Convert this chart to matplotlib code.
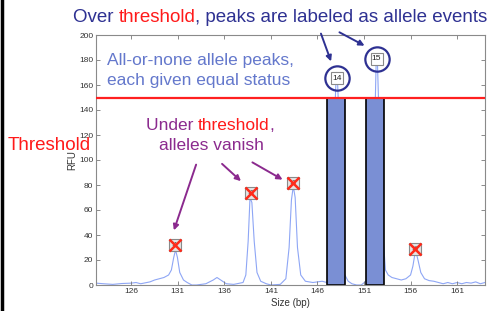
import matplotlib
matplotlib.use('Agg')
import matplotlib.pyplot as plt
from matplotlib.patches import Rectangle
from matplotlib.lines import Line2D

plt.rcParams['font.family'] = ['Liberation Sans', 'DejaVu Sans']

# ---------------- data ----------------
size_bp = [122.2, 123.0, 124.0, 125.0, 126.0, 126.5, 127.0, 128.0, 128.5, 129.0, 129.5, 130.0,
           130.3, 130.55, 130.75, 130.95, 131.2, 131.6, 132.0, 132.5, 133.0, 134.0, 134.8, 135.2,
           135.6, 136.2, 137.0, 138.0, 138.3, 138.55, 138.75, 138.95, 139.2, 139.5, 139.9, 140.5,
           141.0, 142.0, 142.6, 142.95, 143.2, 143.4, 143.6, 143.85, 144.2, 144.7, 145.5, 146.5,
           147.0, 147.4, 147.75, 147.92, 148.02, 148.12, 148.22, 148.45, 148.8, 149.3, 149.7,
           150.2, 150.7, 151.2, 151.7, 152.05, 152.22, 152.32, 152.42, 152.55, 152.85, 153.3,
           153.6, 154.0, 154.5, 155.0, 155.5, 156.0, 156.25, 156.45, 156.6, 156.8, 157.1, 157.5,
           158.0, 158.5, 159.0, 159.5, 160.0, 160.5, 161.0, 161.5, 162.0, 162.5, 163.0, 163.5, 164.0]
rfu = [1.5, 1.0, 0.5, 1.2, 1.5, 2.0, 1.0, 2.5, 4.0, 5.0, 6.0, 8.0,
       12.0, 22.0, 28.0, 22.0, 10.0, 4.0, 2.0, 0.0, 0.0, 1.0, 4.0, 6.0,
       4.0, 1.0, 0.5, 2.0, 8.0, 35.0, 70.0, 66.0, 35.0, 10.0, 3.0, 1.0,
       0.0, 0.5, 5.0, 30.0, 68.0, 79.0, 70.0, 30.0, 8.0, 3.0, 2.0, 3.0,
       2.0, 10.0, 60.0, 150.0, 170.0, 170.0, 150.0, 60.0, 10.0, 3.0, 1.0,
       0.0, 0.0, 3.0, 12.0, 80.0, 150.0, 184.0, 184.0, 150.0, 60.0, 12.0,
       8.0, 6.0, 5.0, 4.0, 5.0, 8.0, 15.0, 24.0, 26.0, 20.0, 10.0, 5.0,
       3.5, 3.0, 2.0, 1.0, 2.0, 1.0, 2.0, 1.0, 2.0, 1.5, 2.5, 1.0, 2.0]

threshold = 150
allele_bar_left = [147.0, 151.2]
allele_bar_right = [149.0, 153.2]
allele_labels = ['14', '15']
allele_label_size = [148.05, 152.35]
allele_label_rfu = [165.5, 181.0]

vanished_labels = ['11', '12', '13', '16']
vanished_size = [130.7, 138.9, 143.4, 156.5]
vanished_rfu = [32.0, 74.0, 82.0, 29.0]

xticks = [126, 131, 136, 141, 146, 151, 156, 161]
yticks = [0, 20, 40, 60, 80, 100, 120, 140, 160, 180, 200]

# ---------------- figure ----------------
W, H = 491, 311
fig = plt.figure(figsize=(W / 100, H / 100), dpi=100)

def fx(x):
    return x / W

def fy(y):
    return 1 - y / H

ax = fig.add_axes([fx(96), fy(285), (485 - 96) / W, (285 - 35) / H])
ax.set_xlim(122.2, 164.0)
ax.set_ylim(0, 200)

ax.plot(size_bp, rfu, color='#8ea6f5', lw=0.8, zorder=1)

for l, r in zip(allele_bar_left, allele_bar_right):
    ax.add_patch(Rectangle((l, 0), r - l, threshold, facecolor='#7a8fd4',
                           edgecolor='black', lw=1.2, zorder=2))

ax.axhline(threshold, color='#ff2020', lw=1.6, zorder=3)

# vanished peaks: grey box + label + red X
ax.plot(vanished_size, vanished_rfu, ls='none', marker='s', ms=8, mfc='#e4e4e4',
        mec='#8a8a8a', mew=0.8, zorder=4)
for s, v, t in zip(vanished_size, vanished_rfu, vanished_labels):
    ax.text(s, v, t, fontsize=4.5, ha='center', va='center', color='#333333', zorder=5)
ax.plot(vanished_size, vanished_rfu, ls='none', marker='x', ms=8.5, mec='#ff2a1a',
        mew=1.8, zorder=6)

# allele labels: box + text + circle
ax.plot(allele_label_size, allele_label_rfu, ls='none', marker='s', ms=8, mfc='white',
        mec='#8a8a8a', mew=0.8, zorder=4, clip_on=False)
for s, v, t in zip(allele_label_size, allele_label_rfu, allele_labels):
    ax.text(s, v, t, fontsize=6, ha='center', va='center', color='#222222', zorder=5)
ax.plot(allele_label_size, allele_label_rfu, ls='none', marker='o', ms=17.5, mfc='none',
        mec='#2e3192', mew=1.6, zorder=6, clip_on=False)

ax.set_xticks(xticks)
ax.set_yticks(yticks)
ax.tick_params(direction='in', length=3, width=0.6, colors='#777777', labelcolor='#333333',
               labelsize=6, top=True, right=True, pad=2)
for sp in ax.spines.values():
    sp.set_color('#8a8a8a')
    sp.set_linewidth(0.8)
ax.set_xlabel('Size (bp)', fontsize=7, color='#333333', labelpad=2)
ax.set_ylabel('RFU', fontsize=7, color='#333333', labelpad=1)

# left border line
fig.add_artist(Line2D([fx(2), fx(2)], [0, 1], color='black', lw=2.5))

# ---------------- annotation texts ----------------
renderer = fig.canvas.get_renderer()

def colored_line(parts, xc, yc, fontsize):
    texts = []
    widths = []
    for s, c in parts:
        t = fig.text(0, 0, s, color=c, fontsize=fontsize, va='center', ha='left')
        bb = t.get_window_extent(renderer=renderer)
        texts.append(t)
        widths.append(bb.width)
    total = sum(widths)
    x = xc - total / 2
    for t, w in zip(texts, widths):
        t.set_position((fx(x), fy(yc)))
        x += w

dark_blue = '#2e3192'
purple = '#8b2a8e'
red = '#ff1a1a'

colored_line([('Over ', dark_blue), ('threshold', red),
              (', peaks are labeled as allele events', dark_blue)], 280, 18, 13.5)
fig.text(fx(107), fy(61), 'All-or-none allele peaks,', color='#6478cc', fontsize=12.5,
         va='center', ha='left')
fig.text(fx(107), fy(80), 'each given equal status', color='#6478cc', fontsize=12.5,
         va='center', ha='left')
colored_line([('Under ', purple), ('threshold', red), (',', purple)], 210, 125, 12.5)
colored_line([('alleles vanish', purple)], 211, 145, 12.5)
fig.text(fx(8), fy(145), 'Threshold', color=red, fontsize=13.5, va='center', ha='left')

def arrow(x0, y0, x1, y1, color):
    fig.add_artist(matplotlib.patches.FancyArrowPatch(
        (fx(x0), fy(y0)), (fx(x1), fy(y1)), transform=fig.transFigure,
        arrowstyle='-|>', mutation_scale=8, color=color, lw=1.4))

arrow(320, 31, 332, 64, dark_blue)
arrow(337, 31, 367, 47, dark_blue)
arrow(197, 162, 173, 233, purple)
arrow(220, 162, 243, 183, purple)
arrow(250, 161, 285, 181, purple)

fig.savefig('out.png', dpi=100)
